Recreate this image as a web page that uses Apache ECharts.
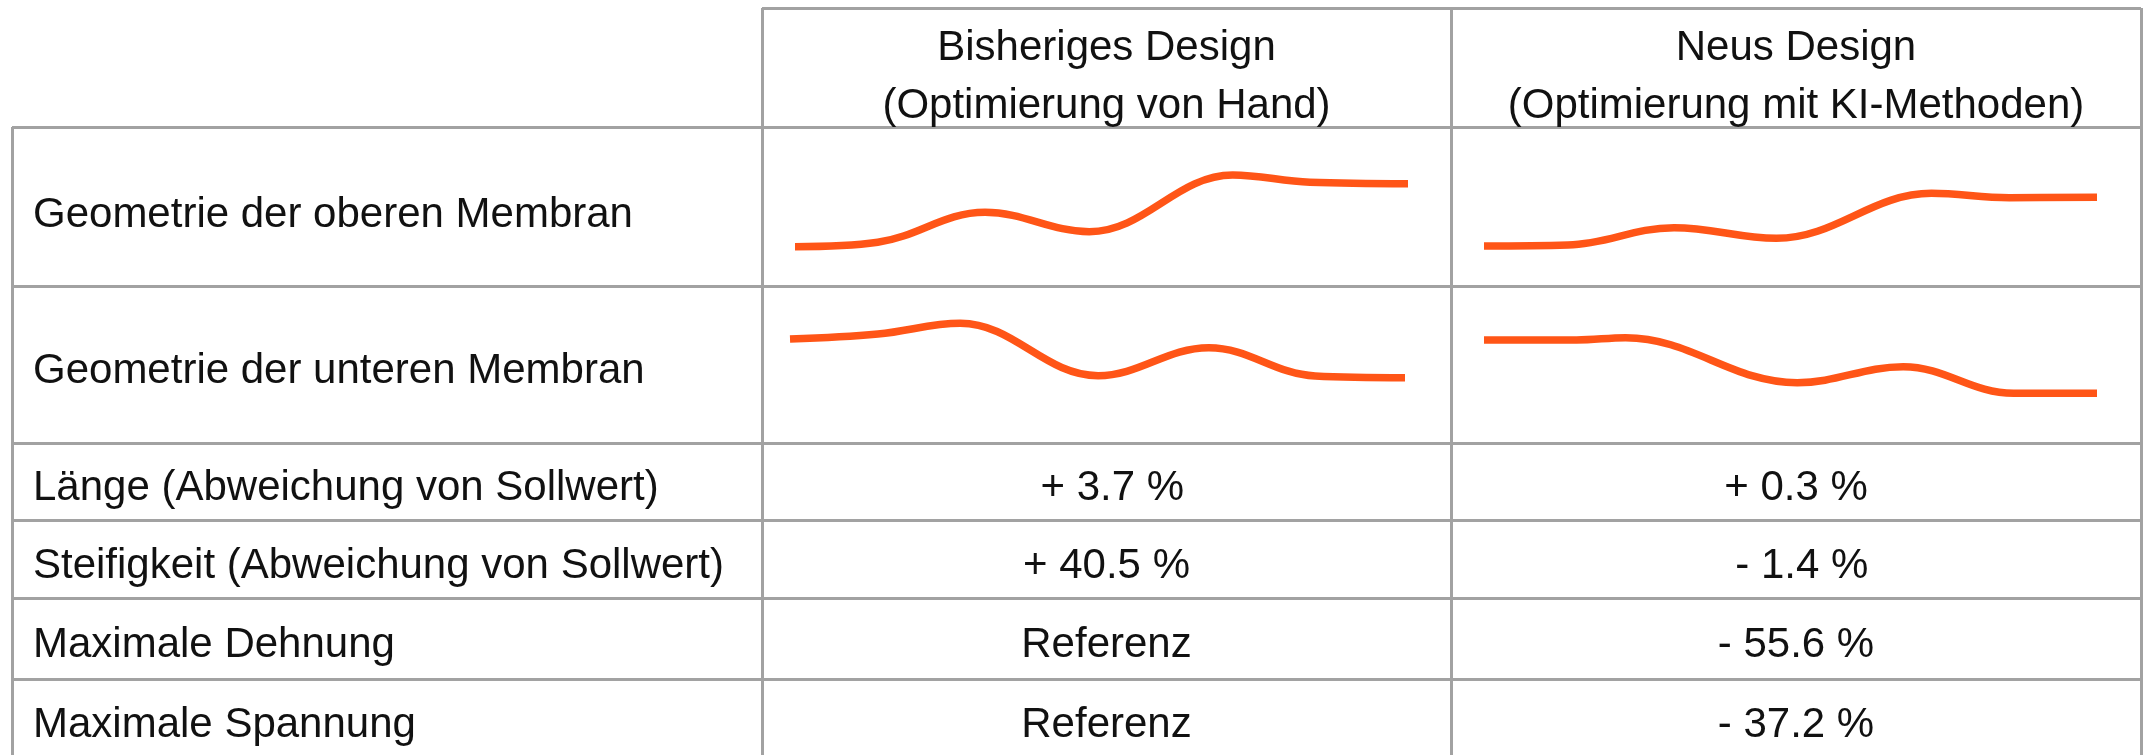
<!DOCTYPE html>
<html>
<head>
<meta charset="utf-8">
<title>Membran Vergleich</title>
<script src="https://cdn.jsdelivr.net/npm/echarts@6/dist/echarts.min.js"></script>
<style>
    html,body{
        margin: 0;
        padding: 0;
        background: #fff;
    }
    #chart{
        width: 2144px;
        height: 755px;
    }
</style>
</head>
<body>
<div id="chart"></div>
<script>
// spalten + zeilen
var colTitles = [
    ['Bisheriges Design', '(Optimierung von Hand)'],
    ['Neus Design', '(Optimierung mit KI-Methoden)']
]
var rowLabels = [
    'Geometrie der oberen Membran',
    'Geometrie der unteren Membran',
    'Länge (Abweichung von Sollwert)',
    'Steifigkeit (Abweichung von Sollwert)',
    'Maximale Dehnung',
    'Maximale Spannung'
]
var oldValues = [' + 3.7 %', '+ 40.5 %', 'Referenz', 'Referenz']
var newValues = ['+ 0.3 %', ' - 1.4 %', '- 55.6 %', '- 37.2 %']

// membran-profile: [position 0..100, hoehe], nur knick-/extrempunkte
var upperOld = [[0,13.3],[13.5,17.7],[31,47.7],[48,28.3],[71.4,85],[84,77.7],[100,76.3]]
var upperNew = [[0,14],[13.7,15],[31,32.3],[47.7,21.7],[73,66.7],[85.7,62.3],[100,62.7]]
var lowerOld = [[0,71],[14.3,76],[27.7,86.7],[50.1,34.3],[68.1,62.3],[85.4,34],[100,32.3]]
var lowerNew = [[0,70],[15.1,70],[23.1,72.3],[51.1,27.3],[68.4,43.3],[86.4,16.7],[100,16.7]]

// layout der tabelle (px)
var colX = [12, 762, 1451, 2141]
var rowY = [8, 127, 286, 443, 520, 598, 679, 757]
var lineColor = '#a2a2a2'
var textColor = '#111'
var font = '"Liberation Sans", Arial, sans-serif'
var fontSize = 42
var curveColor = '#ff5517'

var myChart = echarts.init(document.getElementById('chart'))

var graphics = []
function hLine(y, x1, x2){
    graphics.push({
        type: 'line',
        shape: {x1: x1, y1: y + 0.5, x2: x2, y2: y + 0.5},
        style: {stroke: lineColor, lineWidth: 3}
    })
}
function vLine(x, y1, y2){
    graphics.push({
        type: 'line',
        shape: {x1: x + 0.5, y1: y1, x2: x + 0.5, y2: y2},
        style: {stroke: lineColor, lineWidth: 3}
    })
}
function txt(s, x, y, align){
    graphics.push({
        type: 'text',
        x: x,
        y: y,
        style: {
            text: s,
            fill: textColor,
            font: fontSize + 'px ' + font,
            align: align,
            verticalAlign: 'middle'
        }
    })
}

// rahmen
hLine(rowY[0], colX[1], colX[3])
for(var i = 1; i < rowY.length; i++){
    hLine(rowY[i], colX[0], colX[3])
}
vLine(colX[0], rowY[1], rowY[7])
vLine(colX[1], rowY[0], rowY[7])
vLine(colX[2], rowY[0], rowY[7])
vLine(colX[3], rowY[0], rowY[7])

// kopfzeile
colTitles.forEach(function(t, i){
    var cx = (colX[i + 1] + colX[i + 2]) / 2
    txt(t[0], cx, 48, 'center')
    txt(t[1], cx, 106, 'center')
})

// zeilen (text sitzt etwas unter der mitte)
rowLabels.forEach(function(l, i){
    var cy = (rowY[i + 1] + rowY[i + 2]) / 2 + (i == 0 ? 9 : 7)
    txt(l, 33, cy, 'left')
})
oldValues.forEach(function(v, i){
    var cy = (rowY[i + 3] + rowY[i + 4]) / 2 + 7
    txt(v, (colX[1] + colX[2]) / 2, cy, 'center')
    txt(newValues[i], (colX[2] + colX[3]) / 2, cy, 'center')
})

// kleine grids fuer die kurven
var grids = [
    {left: 795, top: 160, width: 613, height: 100},
    {left: 1484, top: 160, width: 613, height: 100},
    {left: 790, top: 310, width: 615, height: 100},
    {left: 1484, top: 310, width: 613, height: 100}
]
var curves = [upperOld, upperNew, lowerOld, lowerNew]
var xAxes = [], yAxes = [], seriesArr = []
curves.forEach(function(d, i){
    xAxes.push({type: 'value', gridIndex: i, min: 0, max: 100, show: false})
    yAxes.push({type: 'value', gridIndex: i, min: 0, max: 100, show: false})
    seriesArr.push({
        type: 'line',
        xAxisIndex: i,
        yAxisIndex: i,
        data: d,
        smooth: 0.38,
        symbol: 'none',
        clip: false,
        lineStyle: {color: curveColor, width: 7.5, cap: 'butt'}
    })
})

var option = {
    animation: false,
    grid: grids,
    xAxis: xAxes,
    yAxis: yAxes,
    series: seriesArr,
    graphic: graphics
}
myChart.setOption(option)
</script>
</body>
</html>
